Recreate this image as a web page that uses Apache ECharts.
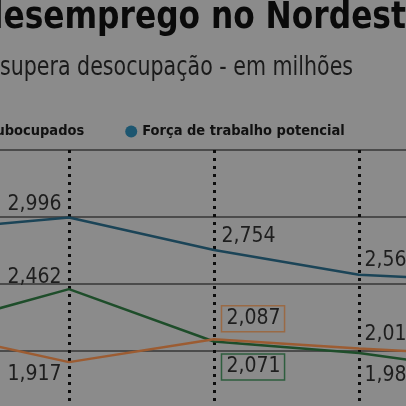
<!DOCTYPE html>
<html><head><meta charset="utf-8">
<script src="https://cdn.jsdelivr.net/npm/echarts@6/dist/echarts.min.js"></script>
<style>html,body{margin:0;padding:0;background:#8b8b8b}#c{width:406px;height:406px}</style>
</head><body><div id="c"></div>
<script>
const categories = ['T1', 'T2', 'T3', 'T4', 'T5'];
const forcaPotencial = [2.898, 2.996, 2.754, 2.569, 2.520];
const subocupados = [2.164, 2.462, 2.071, 1.985, 1.836];
const desocupados = [2.153, 1.917, 2.087, 2.019, 1.960];
const yTicks = [1.5, 2.0, 2.5, 3.0, 3.5];
const titleText = 'desemprego no Nordeste';
const subtitleText = 'supera desocupação - em milhões';

const fmt = v => v.toFixed(3).replace('.', ',');
const cond = 'DejaVu Sans Condensed, sans-serif';
function lbl(dx, dy, align, extra) {
  return Object.assign({show: true, position: [dx, dy], align: align, verticalAlign: 'middle',
    fontFamily: cond, fontSize: 21, color: '#1e1e1e', formatter: p => fmt(p.value)}, extra || {});
}
function pts(values, labels) {
  return values.map((v, i) => labels[i] ? {value: v, label: labels[i]} : {value: v});
}
const chart = echarts.init(document.getElementById('c'));
chart.setOption({
  backgroundColor: '#8b8b8b',
  animation: false,
  graphic: [
    {type: 'text', x: -19, y: 0, scaleX: 0.94, style: {text: titleText, fontFamily: cond, fontWeight: 'bold', fontSize: 37, fill: '#0a0a0a'}},
    {type: 'text', x: 0, y: 55, scaleX: 0.88, style: {text: subtitleText, fontFamily: cond, fontSize: 26, fill: '#1a1a1a'}}
  ],
  legend: {
    left: -36, top: 119, width: 700, itemWidth: 12, itemHeight: 12, itemGap: 41, icon: 'circle',
    textStyle: {fontFamily: cond, fontWeight: 'bold', fontSize: 14.5, color: '#111'},
    data: ['Subocupados', 'Força de trabalho potencial']
  },
  grid: {left: -76, top: 150, width: 580, height: 268, outerBoundsMode: 'none', containLabel: false},
  xAxis: {
    type: 'category', data: categories, boundaryGap: false,
    axisLine: {show: false}, axisTick: {show: false}, axisLabel: {show: false},
    splitLine: {show: true, lineStyle: {color: '#0d0d0d', width: 3, type: [3, 5]}}
  },
  yAxis: {
    type: 'value', min: 1.5, max: 3.5, interval: 0.5,
    axisLine: {show: false}, axisTick: {show: false}, axisLabel: {show: false},
    splitLine: {lineStyle: {color: '#363636', width: 1.5}}
  },
  series: [
    {name: 'Força de trabalho potencial', type: 'line', data: pts(forcaPotencial, [null,
      lbl(-7, -12, 'right'), lbl(8, -13, 'left'), lbl(6, -14, 'left'), null]),
      symbol: 'circle', symbolSize: 1, lineStyle: {color: '#1b4457', width: 2.5}, itemStyle: {color: '#1d5670'}},
    {name: 'Subocupados', type: 'line', data: pts(subocupados, [null,
      lbl(-7, -11, 'right'), lbl(8, 26, 'left', {borderColor: '#2e5e3e', borderWidth: 1.5, padding: [3, 4, 2, 5]}), lbl(6, 23, 'left'), null]),
      symbol: 'circle', symbolSize: 1, lineStyle: {color: '#1e4d2a', width: 2.5}, itemStyle: {color: '#1e4d2a'}},
    {name: 'Desocupados', type: 'line', data: pts(desocupados, [null,
      lbl(-7, 13, 'right'), lbl(8, -20, 'left', {borderColor: '#9a6a45', borderWidth: 1.5, padding: [3, 4, 2, 5]}), lbl(6, -13, 'left'), null]),
      symbol: 'circle', symbolSize: 1, lineStyle: {color: '#9c5c32', width: 2.5}, itemStyle: {color: '#9c5c32'}}
  ]
});
</script></body></html>
